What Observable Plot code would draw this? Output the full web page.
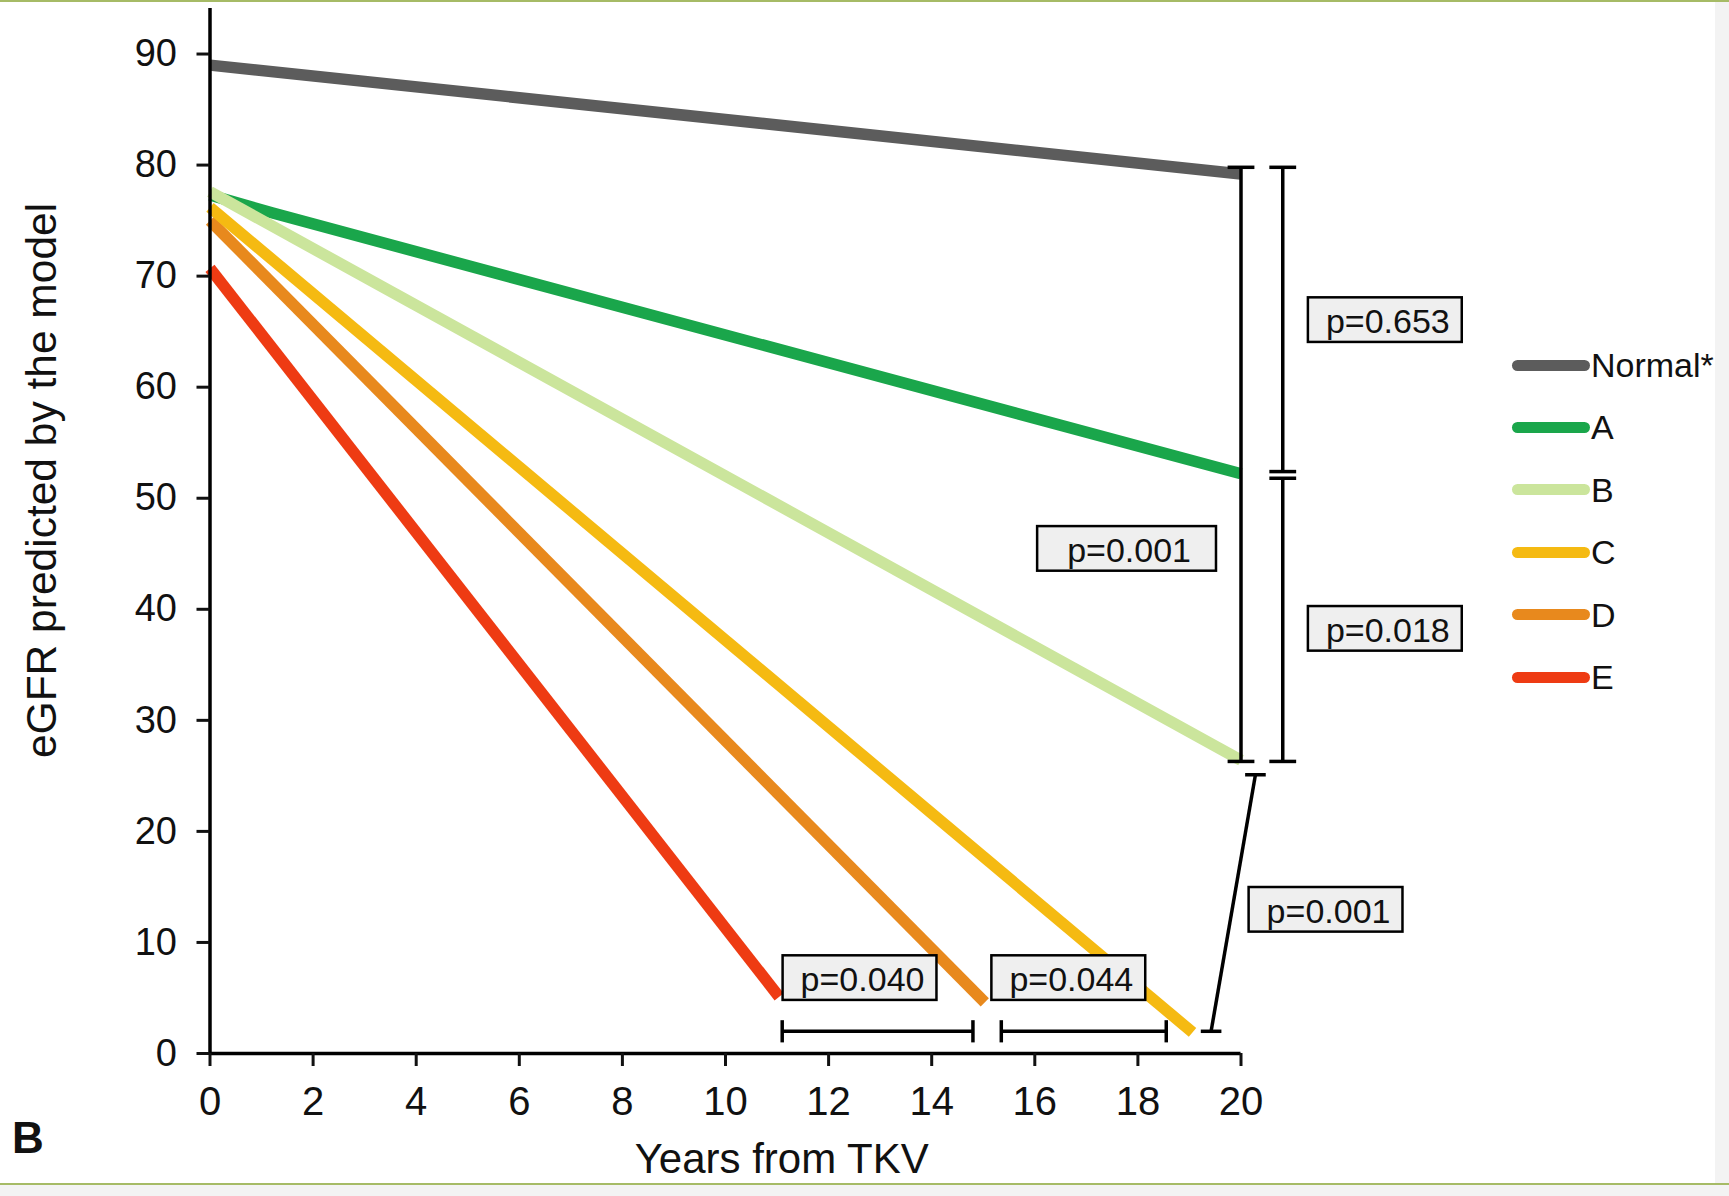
<!DOCTYPE html>
<html>
<head>
<meta charset="utf-8">
<script src="https://cdn.jsdelivr.net/npm/d3@7"></script>
<script src="https://cdn.jsdelivr.net/npm/@observablehq/plot@0.6"></script>
<style>
html, body { margin: 0; padding: 0; background: #f3f3f3; }
#page { position: absolute; left: 0; top: 0; width: 1715px; height: 1183px; background: #fff; overflow: hidden;
        font-family: "Liberation Sans", Arial, Helvetica, sans-serif; }
#topline { position: absolute; left: 0; top: 0; width: 1729px; height: 2px; background: #a6bb66; }
#botline { position: absolute; left: 0; top: 1183px; width: 1729px; height: 2px; background: #a6bb66; }
#legend { position: absolute; left: 1512px; top: 0; }
.lg-row { position: absolute; left: 0; height: 40px; display: flex; align-items: center; white-space: nowrap; }
.lg-sw { display: inline-block; width: 78px; height: 11px; border-radius: 6px; margin-right: 1px; }
.lg-tx { font-size: 34px; color: #111; line-height: 40px; }
</style>
</head>
<body>
<div id="page">
  <div id="legend"></div>
</div>
<div id="topline"></div>
<div id="botline"></div>
<script>
// ---------------- data ----------------
const seriesNames  = ["Normal*", "A", "B", "C", "D", "E"];
const seriesColors = ["#5c5c5c", "#1aa64b", "#cbe59c", "#f5ba12", "#e8891d", "#ee3b13"];

const normalX = [0, 20],        normalY = [89.0, 79.2];
const aX      = [0, 1.2, 20],   aY      = [77.3, 75.7, 52.2];
const bX      = [0, 20],        bY      = [77.6, 26.4];
const cX      = [0, 19.06],     cY      = [76.2, 1.9];
const dX      = [0, 15.03],     dY      = [75.0, 4.6];
const eX      = [0, 11.04],     eY      = [70.7, 5.1];

const xTicks = [0, 2, 4, 6, 8, 10, 12, 14, 16, 18, 20];
const yTicks = [0, 10, 20, 30, 40, 50, 60, 70, 80, 90];

// significance brackets (data units)
const vBrackets = [
  {x: 20.0,  y1: 26.3, y2: 79.8},
  {x: 20.81, y1: 52.4, y2: 79.8},
  {x: 20.81, y1: 26.3, y2: 51.8}
];
const hBrackets = [
  {y: 2.0, x1: 11.1,  x2: 14.8},
  {y: 2.0, x1: 15.35, x2: 18.55}
];
const sBrackets = [
  {x1: 20.28, y1: 25.1, x2: 19.42, y2: 2.0}
];

// p-value labels
const pLabels = ["p=0.653", "p=0.018", "p=0.001", "p=0.040", "p=0.044"];
const pX      = [22.79, 22.79, 21.64, 12.6, 16.65];
const pY      = [66.1, 38.3, 13.0, 6.85, 6.85];
const pWideLabel = ["p=0.001"];
const pWideX = [17.78];
const pWideY = [45.5];

// ---------------- build ----------------
const rows = (name, xs, ys) => xs.map((x, i) => ({series: name, x, y: ys[i]}));
const lineData = [
  ...rows("Normal*", normalX, normalY),
  ...rows("E", eX, eY),
  ...rows("D", dX, dY),
  ...rows("C", cX, cY),
  ...rows("A", aX, aY),
  ...rows("B", bX, bY)
];

const segs = [];
const capX = 0.26, capY = 1.0, capS = 0.2;
for (const b of vBrackets) {
  segs.push({x1: b.x, y1: b.y1, x2: b.x, y2: b.y2});
  segs.push({x1: b.x - capX, y1: b.y1, x2: b.x + capX, y2: b.y1});
  segs.push({x1: b.x - capX, y1: b.y2, x2: b.x + capX, y2: b.y2});
}
for (const b of hBrackets) {
  segs.push({x1: b.x1, y1: b.y, x2: b.x2, y2: b.y});
  segs.push({x1: b.x1, y1: b.y - capY, x2: b.x1, y2: b.y + capY});
  segs.push({x1: b.x2, y1: b.y - capY, x2: b.x2, y2: b.y + capY});
}
for (const b of sBrackets) {
  segs.push({x1: b.x1, y1: b.y1, x2: b.x2, y2: b.y2});
  segs.push({x1: b.x1 - capS, y1: b.y1, x2: b.x1 + capS, y2: b.y1});
  segs.push({x1: b.x2 - capS, y1: b.y2, x2: b.x2 + capS, y2: b.y2});
}

const pData = pLabels.map((t, i) => ({t, x: pX[i], y: pY[i]}));
const pWide = pWideLabel.map((t, i) => ({t, x: pWideX[i], y: pWideY[i]}));

const chart = Plot.plot({
  width: 1715,
  height: 1183,
  marginLeft: 209.5,
  marginRight: 474.5,
  marginTop: 8,
  marginBottom: 130,
  x: {domain: [0, 20]},
  y: {domain: [0, 94.1]},
  color: {domain: seriesNames, range: seriesColors},
  style: {fontFamily: "'Liberation Sans', Arial, Helvetica, sans-serif", background: "transparent", color: "#111", overflow: "visible"},
  marks: [
    Plot.line(lineData, {x: "x", y: "y", z: "series", stroke: "series", strokeWidth: 11.5, strokeLinecap: "butt", strokeLinejoin: "round"}),
    Plot.ruleX([0], {stroke: "#000", strokeWidth: 3.5}),
    Plot.ruleY([0], {stroke: "#000", strokeWidth: 3.5}),
    Plot.axisY(yTicks, {tickSize: 13, tickPadding: 20, fontSize: 38, strokeWidth: 3, label: null}),
    Plot.axisX(xTicks, {tickSize: 13, tickPadding: 20, fontSize: 40, strokeWidth: 3, label: null}),
    Plot.link(segs, {x1: "x1", y1: "y1", x2: "x2", y2: "y2", stroke: "#000", strokeWidth: 3.5}),
    Plot.text(pData, {x: "x", y: "y", text: "t", fontSize: 34, dx: 3, dy: 3, fill: "#111"}),
    Plot.text(pWide, {x: "x", y: "y", text: "t", fontSize: 34, dx: 2.5, dy: 3, fill: "#111"}),
    Plot.text([{t: "Years from TKV", x: 11.09}], {x: "x", text: "t", frameAnchor: "bottom", dy: 119, lineAnchor: "bottom", fontSize: 42, fill: "#111"}),
    Plot.text([{t: "eGFR predicted by the model", y: 51.6}], {y: "y", text: "t", frameAnchor: "left", textAnchor: "middle", dx: -167.5, rotate: -90, fontSize: 42.5, fill: "#111"}),
    Plot.text([{t: "B"}], {text: "t", frameAnchor: "bottom-left", dx: -198, dy: 99, textAnchor: "start", lineAnchor: "bottom", fontSize: 44, fontWeight: "bold", fill: "#111"})
  ]
});

const page = document.getElementById("page");
page.insertBefore(chart, page.firstChild);

// draw the grey boxes behind the p-value texts
d3.select(chart).selectAll("text").each(function () {
  const s = this.textContent;
  if (!s.startsWith("p=")) return;
  const isWide = this.parentNode && this.parentNode.childElementCount === pWideLabel.length && pWideLabel.includes(s);
  const padL = isWide ? 30 : 18, padR = isWide ? 25 : 12;
  const b = this.getBBox();
  const r = document.createElementNS("http://www.w3.org/2000/svg", "rect");
  r.setAttribute("x", b.x - padL);
  r.setAttribute("y", b.y - 5);
  r.setAttribute("width", b.width + padL + padR);
  r.setAttribute("height", b.height + 6.6);
  r.setAttribute("fill", "#efefef");
  r.setAttribute("stroke", "#000");
  r.setAttribute("stroke-width", 2.5);
  const t = this.getAttribute("transform");
  if (t) r.setAttribute("transform", t);
  this.parentNode.insertBefore(r, this);
});

// legend
const legend = document.getElementById("legend");
seriesNames.forEach((name, i) => {
  const row = document.createElement("div");
  row.className = "lg-row";
  row.style.top = (345 + i * 62.4) + "px";
  const sw = document.createElement("span");
  sw.className = "lg-sw";
  sw.style.background = seriesColors[i];
  const tx = document.createElement("span");
  tx.className = "lg-tx";
  tx.textContent = name;
  row.append(sw, tx);
  legend.append(row);
});
</script>
</body>
</html>
